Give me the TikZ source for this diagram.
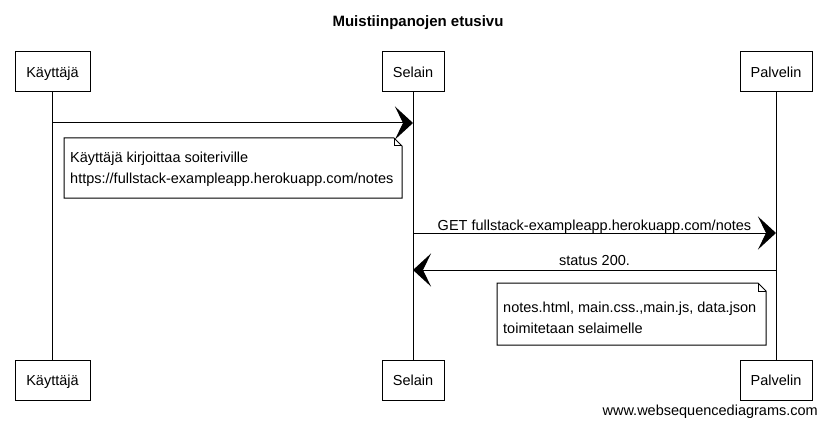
\documentclass[tikz,border=0pt]{standalone}
\usepackage{fontspec}
\setmainfont{Liberation Sans}
\usetikzlibrary{arrows.meta}
\begin{document}
\begin{tikzpicture}[x=1pt,y=-1pt,
  base/.style={font=\fontsize{14.5}{21}\selectfont},
  actor/.style={base, draw, line width=1pt, minimum height=40pt, text height=10.4pt, text depth=0pt, inner sep=0pt},
  life/.style={line width=0.9pt},
  msg/.style={line width=1pt, -{Stealth[length=18pt,width=33pt,inset=8pt]}},
  notetext/.style={base, align=left, inner xsep=6pt, inner ysep=0pt, anchor=west},
  noteline/.style={line width=1pt},
  lbl/.style={base, anchor=base, inner sep=0pt}]

\fill[white] (0,0) rectangle (827,425);
\useasboundingbox (0,0) rectangle (827,425);

\node[font=\fontsize{15}{18}\selectfont\bfseries, anchor=base, inner sep=0pt] (title) at (418,27) {Muistiinpanojen etusivu};

% participants
\node[actor, minimum width=75pt] (k1) at (52.5,72) {Käyttäjä};
\node[actor, minimum width=62pt] (s1) at (413,72) {Selain};
\node[actor, minimum width=72pt] (p1) at (776,72) {Palvelin};
\node[actor, minimum width=75pt] (k2) at (52.5,380.5) {Käyttäjä};
\node[actor, minimum width=62pt] (s2) at (413,380.5) {Selain};
\node[actor, minimum width=72pt] (p2) at (776,380.5) {Palvelin};

% lifelines
\draw[life] (k1) -- (k2);
\draw[life] (s1) -- (s2);
\draw[life] (p1) -- (p2);

% message end points
\coordinate (m1a) at (52.5,123);
\coordinate (m1b) at (413,123);
\coordinate (m2a) at (413,233);
\coordinate (m2b) at (776,233);
\coordinate (m3a) at (776,270);
\coordinate (m3b) at (413,270);

\draw[msg] (m1a) -- (m1b);
\draw[msg] (m2a) -- (m2b);
\draw[msg] (m3a) -- (m3b);

\path (m2a) -- (m2b) node[lbl, midway, yshift=3pt] (l2) {GET fullstack-exampleapp.herokuapp.com/notes};
\path (m3a) -- (m3b) node[lbl, midway, yshift=5pt] (l3) {status 200.};

% note 1
\coordinate (n1nw) at (64,138);
\coordinate (n1se) at (402,198);
\coordinate (n1ne) at (n1se |- n1nw);
\coordinate (n1sw) at (n1nw |- n1se);
\draw[noteline] (n1nw) -- ([xshift=-8pt]n1ne) -- ([yshift=-8pt]n1ne) -- (n1se) -- (n1sw) -- cycle;
\draw[noteline] ([xshift=-8pt]n1ne) -- ([xshift=-8pt,yshift=-8pt]n1ne) -- ([yshift=-8pt]n1ne);
\node[notetext] (n1) at (64,169.5)
  {Käyttäjä kirjoittaa soiteriville\\https://fullstack-exampleapp.herokuapp.com/notes};

% note 2
\coordinate (n2nw) at (497,283);
\coordinate (n2se) at (766,345);
\coordinate (n2ne) at (n2se |- n2nw);
\coordinate (n2sw) at (n2nw |- n2se);
\draw[noteline] (n2nw) -- ([xshift=-8pt]n2ne) -- ([yshift=-8pt]n2ne) -- (n2se) -- (n2sw) -- cycle;
\draw[noteline] ([xshift=-8pt]n2ne) -- ([xshift=-8pt,yshift=-8pt]n2ne) -- ([yshift=-8pt]n2ne);
\node[notetext] (n2) at (497,317.5)
  {notes.html, main.css.,main.js, data.json\\toimitetaan selaimelle};

\node[base, anchor=base east, inner sep=0pt] (wm) at (818,415) {www.websequencediagrams.com};
\end{tikzpicture}
\end{document}
